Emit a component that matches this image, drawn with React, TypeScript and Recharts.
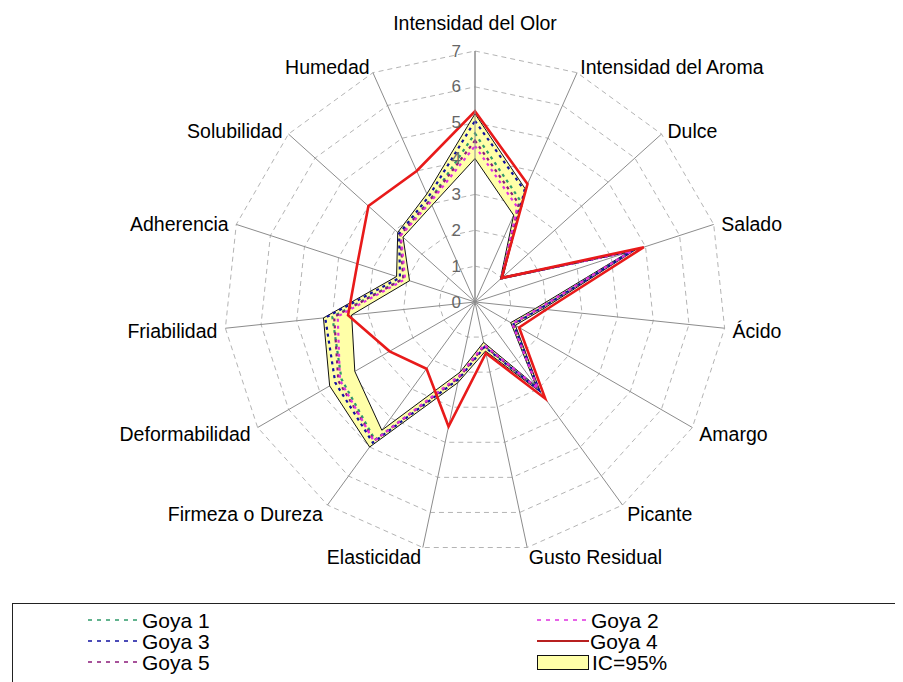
import React from "react";
import { PolarAngleAxis, PolarGrid, PolarRadiusAxis, Radar, RadarChart } from "recharts";

const categories = [
  "Intensidad del Olor",
  "Intensidad del Aroma",
  "Dulce",
  "Salado",
  "Ácido",
  "Amargo",
  "Picante",
  "Gusto Residual",
  "Elasticidad",
  "Firmeza o Dureza",
  "Deformabilidad",
  "Friabilidad",
  "Adherencia",
  "Solubilidad",
  "Humedad",
];

const goya1 = [4.7, 3.1, 1.0, 4.6, 1.8, 1.22, 3.0, 1.25, 2.15, 4.75, 4.3, 4.0, 2.1, 2.8, 3.1];
const goya2 = [4.35, 2.9, 1.0, 4.58, 1.78, 1.2, 2.98, 1.22, 2.1, 4.8, 4.35, 3.85, 2.05, 2.78, 3.05];
const goya3 = [5.05, 3.4, 1.0, 4.62, 1.82, 1.24, 3.02, 1.28, 2.2, 4.85, 4.5, 4.2, 2.2, 2.85, 3.2];
const goya4 = [5.32, 3.6, 1.0, 4.95, 2.0, 1.42, 3.33, 1.46, 3.55, 2.3, 2.75, 3.56, 3.45, 4.0, 4.0];
const goya5 = [4.5, 3.0, 1.0, 4.6, 1.8, 1.22, 3.0, 1.25, 2.15, 4.78, 4.4, 3.95, 2.1, 2.8, 3.1];
const icLower = [4.0, 2.65, 0.95, 4.5, 1.7, 1.15, 2.9, 1.15, 2.0, 4.42, 3.87, 3.46, 1.92, 2.7, 2.95];
const icUpper = [5.25, 3.45, 1.05, 4.7, 1.9, 1.3, 3.1, 1.4, 2.3, 5.0, 4.68, 4.25, 2.3, 2.9, 3.3];

const radiusTicks = [0, 1, 2, 3, 4, 5, 6, 7];

const data = categories.map((subject, i) => ({
  subject,
  goya1: goya1[i],
  goya2: goya2[i],
  goya3: goya3[i],
  goya4: goya4[i],
  goya5: goya5[i],
  icLower: icLower[i],
  icUpper: icUpper[i],
}));

const CX = 467;
const CY = 294;
const FONT = '"Liberation Sans", Arial, sans-serif';

const dotted = [
  { key: "goya1", name: "Goya 1", color: "#2f9a6a" },
  { key: "goya3", name: "Goya 3", color: "#1010a0" },
  { key: "goya5", name: "Goya 5", color: "#8a1a7a" },
  { key: "goya2", name: "Goya 2", color: "#e030e0" },
];

function BandShape(props: any) {
  const pts = props.points || [];
  if (!pts.length) return null;
  const outer = pts.map((p: any) => `${p.x},${p.y}`);
  const inner = pts.map((p: any) => {
    const cx = p.cx ?? CX;
    const cy = p.cy ?? CY;
    const k = p.payload.icUpper ? p.payload.icLower / p.payload.icUpper : 0;
    return `${cx + (p.x - cx) * k},${cy + (p.y - cy) * k}`;
  });
  const d = `M${outer.join("L")}Z M${inner.join("L")}Z`;
  return <path d={d} fill="#ffffa8" fillRule="evenodd" stroke="#111" strokeWidth={1} />;
}

function AngleTick(props: any) {
  const { x, y, textAnchor, payload } = props;
  const dy = textAnchor === "middle" ? -20 : 2;
  return (
    <text x={x} y={y + dy} textAnchor={textAnchor} dominantBaseline="central" fontSize={19.5} fontFamily={FONT} fill="#000">
      {payload.value}
    </text>
  );
}

function RadiusTick(props: any) {
  const { x, y, payload } = props;
  return (
    <text x={x - 14} y={y} textAnchor="end" dominantBaseline="central" fontSize={17} fontFamily={FONT} fill="#666">
      {payload.value}
    </text>
  );
}

function LegendBox() {
  const rows = [
    { name: "Goya 1", color: "#2f9a6a", x: 80, y: 22 },
    { name: "Goya 3", color: "#1010a0", x: 80, y: 43 },
    { name: "Goya 5", color: "#8a1a7a", x: 80, y: 64 },
    { name: "Goya 2", color: "#e030e0", x: 529, y: 22 },
  ];
  return (
    <svg width={895} height={84} style={{ position: "absolute", left: 0, top: 590 }}>
      <rect x={4.5} y={5.5} width={1000} height={200} fill="#fff" stroke="#222" strokeWidth={1} />
      {rows.map((r) => (
        <g key={r.name}>
          <line x1={r.x} x2={r.x + 52} y1={r.y} y2={r.y} stroke={r.color} strokeWidth={1.6} strokeDasharray="4 5" />
          <text x={r.x + 54} y={r.y} dominantBaseline="central" fontSize={21} fontFamily={FONT} fill="#000">
            {r.name}
          </text>
        </g>
      ))}
      <line x1={529} x2={581} y1={43} y2={43} stroke="#b82020" strokeWidth={2} />
      <text x={582} y={43} dominantBaseline="central" fontSize={21} fontFamily={FONT} fill="#000">
        Goya 4
      </text>
      <rect x={529.5} y={57.5} width={51} height={14} fill="#ffffa8" stroke="#111" strokeWidth={1} />
      <text x={584} y={64} dominantBaseline="central" fontSize={21} fontFamily={FONT} fill="#000">
        IC=95%
      </text>
    </svg>
  );
}

export default function App() {
  return (
    <div style={{ position: "relative", width: 895, height: 674, overflow: "hidden", background: "#fff" }}>
      <RadarChart
        width={895}
        height={590}
        cx={CX}
        cy={CY}
        outerRadius={251}
        data={data}
        margin={{ top: 0, right: 0, bottom: 0, left: 0 }}
      >
        <PolarGrid radialLines={false} stroke="#b4b4b4" strokeDasharray="5 4" />
        <PolarGrid polarRadius={[]} stroke="#8c8c8c" />
        <PolarAngleAxis dataKey="subject" tick={AngleTick} tickLine={false} axisLine={false} />
        <PolarRadiusAxis
          angle={90}
          domain={[0, 7]}
          ticks={radiusTicks}
          tickCount={8}
          axisLine={{ stroke: "#8c8c8c" }}
          tick={RadiusTick}
        />
        <Radar dataKey="icUpper" shape={BandShape} isAnimationActive={false} />
        {dotted.map((s) => (
          <Radar
            key={s.key}
            dataKey={s.key}
            name={s.name}
            stroke={s.color}
            strokeWidth={2.2}
            strokeDasharray="3 4"
            fill="none"
            fillOpacity={0}
            isAnimationActive={false}
          />
        ))}
        <Radar dataKey="goya4" name="Goya 4" stroke="#e81a1a" strokeWidth={2.6} fill="none" fillOpacity={0} isAnimationActive={false} />
      </RadarChart>
      <LegendBox />
    </div>
  );
}
